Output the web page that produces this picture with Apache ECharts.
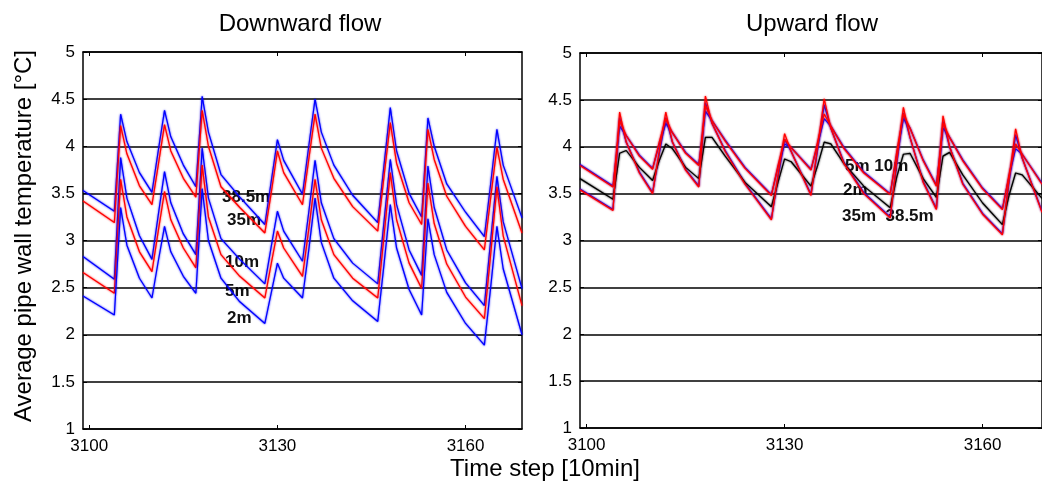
<!DOCTYPE html>
<html>
<head>
<meta charset="utf-8">
<script src="https://cdn.jsdelivr.net/npm/echarts@6/dist/echarts.min.js"></script>
<style>
    html, body { margin: 0; padding: 0; background: #fff; }
    #chart { width: 1042px; height: 490px; }
</style>
</head>
<body>
<div id="chart"></div>
<script>
// time steps shared by every curve (troughs, peaks and points along the decays)
var timeSteps = [3099, 3104, 3105, 3106, 3108, 3110, 3111, 3112, 3113, 3115,
                 3117, 3118, 3119, 3121, 3124, 3128, 3129, 3130, 3131, 3134,
                 3135, 3136, 3137, 3139, 3142, 3146, 3147, 3148, 3149, 3151,
                 3153, 3154, 3155, 3157, 3160, 3163, 3164, 3165, 3166, 3169];
var xTickValues = [3100, 3130, 3160];

// downward flow
var down38_5 = [3.53, 3.31, 4.34, 4.05, 3.72, 3.51, 3.95, 4.38, 4.10, 3.80,
                3.57, 4.53, 4.15, 3.70, 3.46, 3.17, 3.62, 4.07, 3.85, 3.49,
                4.00, 4.50, 4.15, 3.80, 3.48, 3.19, 3.80, 4.41, 3.95, 3.50,
                3.25, 4.30, 4.00, 3.60, 3.30, 3.04, 3.60, 4.18, 3.80, 3.24];
var down35   = [3.42, 3.19, 4.22, 3.92, 3.58, 3.38, 3.80, 4.23, 3.95, 3.66,
                3.46, 4.38, 4.00, 3.57, 3.35, 3.08, 3.50, 3.95, 3.72, 3.38,
                3.86, 4.34, 3.98, 3.66, 3.36, 3.10, 3.68, 4.25, 3.82, 3.40,
                3.17, 4.18, 3.86, 3.47, 3.15, 2.90, 3.45, 3.99, 3.65, 3.08];
var down10   = [2.83, 2.59, 3.88, 3.45, 3.05, 2.80, 3.27, 3.73, 3.40, 3.07,
                2.85, 3.98, 3.45, 3.02, 2.80, 2.54, 2.93, 3.31, 3.10, 2.78,
                3.30, 3.85, 3.40, 3.02, 2.76, 2.54, 3.20, 3.86, 3.38, 2.90,
                2.63, 3.79, 3.35, 2.90, 2.55, 2.31, 3.00, 3.68, 3.20, 2.49];
var down5    = [2.66, 2.44, 3.65, 3.25, 2.88, 2.67, 3.10, 3.52, 3.22, 2.92,
                2.71, 3.80, 3.25, 2.85, 2.62, 2.39, 2.75, 3.10, 2.92, 2.62,
                3.12, 3.65, 3.22, 2.85, 2.60, 2.39, 3.05, 3.72, 3.22, 2.76,
                2.49, 3.61, 3.18, 2.75, 2.40, 2.17, 2.85, 3.57, 3.05, 2.31];
var down2    = [2.41, 2.21, 3.35, 2.95, 2.60, 2.39, 2.78, 3.15, 2.88, 2.62,
                2.44, 3.55, 3.00, 2.60, 2.35, 2.12, 2.44, 2.76, 2.60, 2.39,
                2.90, 3.45, 2.98, 2.60, 2.36, 2.14, 2.75, 3.38, 2.92, 2.48,
                2.21, 3.23, 2.85, 2.45, 2.12, 1.89, 2.50, 3.15, 2.70, 2.00];

// upward flow
var up10     = [3.81, 3.58, 4.22, 4.12, 3.91, 3.77, 4.02, 4.25, 4.15, 3.94,
                3.81, 4.38, 4.28, 4.07, 3.78, 3.49, 3.78, 4.03, 3.99, 3.76,
                4.02, 4.30, 4.22, 3.99, 3.73, 3.50, 3.92, 4.30, 4.20, 3.86,
                3.59, 4.20, 4.10, 3.86, 3.56, 3.34, 3.68, 3.98, 3.92, 3.61];
var up5      = [3.80, 3.57, 4.28, 4.12, 3.90, 3.76, 4.05, 4.30, 4.15, 3.93,
                3.80, 4.44, 4.28, 4.06, 3.77, 3.48, 3.80, 4.08, 3.99, 3.75,
                4.05, 4.35, 4.22, 3.98, 3.72, 3.49, 3.95, 4.35, 4.20, 3.85,
                3.58, 4.25, 4.10, 3.85, 3.55, 3.33, 3.70, 4.03, 3.92, 3.60];
var up2      = [3.66, 3.44, 3.93, 3.96, 3.78, 3.64, 3.85, 4.03, 3.98, 3.78,
                3.66, 4.10, 4.10, 3.90, 3.62, 3.36, 3.62, 3.87, 3.84, 3.58,
                3.80, 4.05, 4.03, 3.82, 3.58, 3.35, 3.68, 3.92, 3.93, 3.66,
                3.46, 3.90, 3.94, 3.70, 3.40, 3.17, 3.48, 3.72, 3.70, 3.45];
var up38_5   = [3.55, 3.33, 4.31, 4.05, 3.73, 3.51, 3.92, 4.31, 4.05, 3.76,
                3.58, 4.47, 4.25, 3.96, 3.61, 3.23, 3.67, 4.08, 3.95, 3.49,
                3.97, 4.45, 4.20, 3.83, 3.51, 3.25, 3.82, 4.36, 4.10, 3.63,
                3.34, 4.27, 4.00, 3.61, 3.29, 3.07, 3.62, 4.13, 3.88, 3.31];
var up35     = [3.54, 3.32, 4.37, 4.05, 3.72, 3.50, 3.95, 4.37, 4.05, 3.75,
                3.57, 4.54, 4.25, 3.95, 3.60, 3.22, 3.70, 4.14, 3.95, 3.48,
                4.00, 4.51, 4.20, 3.82, 3.50, 3.24, 3.85, 4.42, 4.10, 3.62,
                3.33, 4.33, 4.00, 3.60, 3.28, 3.06, 3.65, 4.19, 3.88, 3.30];

var BLUE = '#0000ff', RED = '#ff0000', BLACK = '#000000';
var FONT = "'Liberation Sans', Arial, sans-serif";

function pairs(values) {
    return timeSteps.map(function (t, i) { return [t, values[i]]; });
}

function curve(name, values, color, panel) {
    return {
        name: name,
        type: 'line',
        xAxisIndex: panel * 2,
        yAxisIndex: panel * 2,
        data: pairs(values),
        symbol: 'none',
        silent: true,
        lineStyle: { color: color, width: 1.2, shadowColor: color, shadowBlur: 2 }
    };
}

function xAxes(grid) {
    var common = {
        type: 'value', gridIndex: grid, min: 3099, max: 3169,
        splitLine: { show: false },
        axisLine: { onZero: false, lineStyle: { color: BLACK, width: 1.5 } },
        axisTick: { inside: true, length: 4, customValues: xTickValues, lineStyle: { color: BLACK } }
    };
    var bottom = Object.assign({}, common, {
        position: 'bottom',
        axisLabel: {
            customValues: xTickValues, color: BLACK, fontSize: 17, margin: 9, fontFamily: FONT,
            formatter: function (v) { return String(v); }
        }
    });
    var top = Object.assign({}, common, { position: 'top', axisLabel: { show: false } });
    return [bottom, top];
}

function yAxes(grid) {
    var common = {
        type: 'value', gridIndex: grid, min: 1, max: 5, interval: 0.5,
        axisLine: { onZero: false, lineStyle: { color: BLACK, width: 1.5 } },
        axisTick: { inside: true, length: 4, lineStyle: { color: BLACK } }
    };
    var left = Object.assign({}, common, {
        position: 'left',
        splitLine: { show: true, lineStyle: { color: BLACK, width: 1.5 } },
        axisLabel: { color: BLACK, fontSize: 17, margin: 8, fontFamily: FONT }
    });
    var right = Object.assign({}, common, {
        position: 'right', splitLine: { show: false }, axisLabel: { show: false }
    });
    return [left, right];
}

function label(text, x, y) {
    return {
        type: 'text', x: x, y: y,
        style: { text: text, fill: '#111', font: 'bold 17px ' + FONT, textVerticalAlign: 'middle' }
    };
}

function heading(text, x, y, rotation) {
    return {
        type: 'text', x: x, y: y, rotation: rotation || 0,
        style: { text: text, fill: BLACK, font: '24px ' + FONT, textAlign: 'center', textVerticalAlign: 'middle' }
    };
}

var chart = echarts.init(document.getElementById('chart'));

var option = {
    animation: false,
    backgroundColor: '#fff',
    grid: [
        { left: 83, top: 52, width: 439, height: 377 },
        { left: 580, top: 53, width: 472, height: 375 }
    ],
    xAxis: xAxes(0).concat(xAxes(1)),
    yAxis: yAxes(0).concat(yAxes(1)),
    series: [
        curve('38.5m', down38_5, BLUE, 0),
        curve('35m', down35, RED, 0),
        curve('10m', down10, BLUE, 0),
        curve('5m', down5, RED, 0),
        curve('2m', down2, BLUE, 0),
        curve('10m', up10, BLUE, 1),
        curve('38.5m', up38_5, BLUE, 1),
        curve('2m', up2, BLACK, 1),
        curve('5m', up5, RED, 1),
        curve('35m', up35, RED, 1)
    ],
    graphic: [
        heading('Downward flow', 300, 24),
        heading('Upward flow', 812, 24),
        heading('Time step [10min]', 545, 469),
        heading('Average pipe wall temperature [°C]', 24, 236, Math.PI / 2),
        label('38.5m', 222, 197),
        label('35m', 227, 220),
        label('10m', 225, 262),
        label('5m', 225, 291),
        label('2m', 227, 318),
        label('5m 10m', 845, 166),
        label('2m', 843, 190),
        label('35m  38.5m', 842, 216)
    ]
};

chart.setOption(option);
</script>
</body>
</html>
